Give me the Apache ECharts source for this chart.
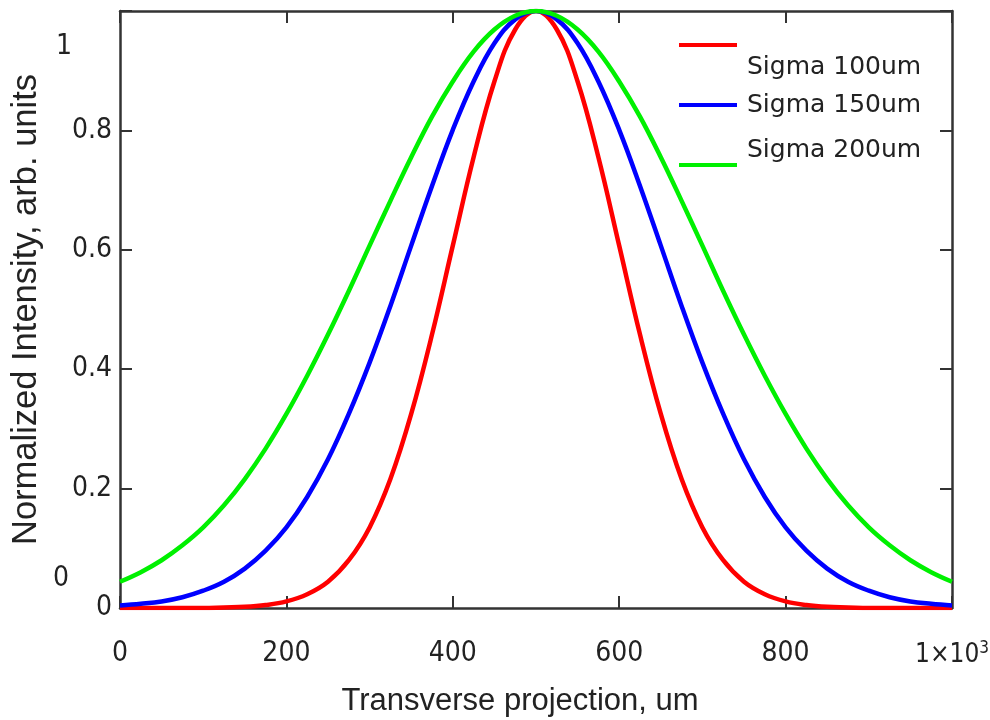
<!DOCTYPE html>
<html>
<head>
<meta charset="utf-8"/>
<title>Gaussian profiles</title>
<script src="https://cdn.jsdelivr.net/npm/echarts@6/dist/echarts.min.js"></script>
<style>
  html, body { margin: 0; padding: 0; background: #fff; }
  #chart { width: 990px; height: 720px; }
</style>
</head>
<body>
<div id="chart"></div>
<script type="text/javascript">
// transverse position, um
var xValues = [0, 25, 50, 75, 100, 125, 150, 175, 200, 225, 250, 275, 300, 325, 350, 375, 400, 425, 450, 475,
  500, 525, 550, 575, 600, 625, 650, 675, 700, 725, 750, 775, 800, 825, 850, 875, 900, 925, 950, 975, 1000];

// normalized intensity
var sigma100 = [0, 0, 0, 0, 0, 0.001, 0.002, 0.005, 0.011, 0.023, 0.044, 0.080, 0.135, 0.216, 0.325, 0.458, 0.607, 0.755, 0.882, 0.969,
  1.000, 0.969, 0.882, 0.755, 0.607, 0.458, 0.325, 0.216, 0.135, 0.080, 0.044, 0.023, 0.011, 0.005, 0.002, 0.001, 0, 0, 0, 0, 0];
var sigma150 = [0.004, 0.007, 0.011, 0.018, 0.029, 0.044, 0.066, 0.096, 0.135, 0.186, 0.249, 0.325, 0.411, 0.506, 0.607, 0.707, 0.801, 0.882, 0.946, 0.986,
  1.000, 0.986, 0.946, 0.882, 0.801, 0.707, 0.607, 0.506, 0.411, 0.325, 0.249, 0.186, 0.135, 0.096, 0.066, 0.044, 0.029, 0.018, 0.011, 0.007, 0.004];
var sigma200 = [0.044, 0.060, 0.080, 0.105, 0.135, 0.172, 0.216, 0.267, 0.325, 0.389, 0.458, 0.531, 0.607, 0.682, 0.755, 0.823, 0.882, 0.932, 0.969, 0.992,
  1.000, 0.992, 0.969, 0.932, 0.882, 0.823, 0.755, 0.682, 0.607, 0.531, 0.458, 0.389, 0.325, 0.267, 0.216, 0.172, 0.135, 0.105, 0.080, 0.060, 0.044];

var seriesNames = ['Sigma 100um', 'Sigma 150um', 'Sigma 200um'];
var seriesColors = ['#ff0000', '#0000ff', '#00f000'];

var pairs = function (ys) {
  return xValues.map(function (x, i) { return [x, ys[i]]; });
};

var tickFont = 'Liberation Sans Narrow, DejaVu Sans Condensed, sans-serif';
var nameFont = 'Liberation Sans, sans-serif';
var axisColor = '#333';

// each legend entry sits a little off its line, like the original
var makeLegend = function (name, top, fmt) {
  return {
    data: [name],
    left: 679,
    top: top,
    padding: 0,
    icon: 'rect',
    itemWidth: 58,
    itemHeight: 4,
    formatter: fmt,
    textStyle: {
      fontFamily: 'DejaVu Sans, sans-serif',
      fontSize: 25,
      color: '#222',
      rich: {
        t: { fontFamily: 'DejaVu Sans, sans-serif', fontSize: 25, color: '#222', lineHeight: 29, padding: [0, 0, 0, 5] },
        s: { fontSize: 10, lineHeight: 44 },
        g: { fontSize: 10, lineHeight: 30 }
      }
    }
  };
};

var myChart = echarts.init(document.getElementById('chart'));
var option = {
  animation: false,
  backgroundColor: '#fff',
  grid: { left: 120, right: 38, top: 11, bottom: 112, containLabel: false, outerBoundsMode: 'none' },
  legend: [
    makeLegend(seriesNames[0], 25.5, function (n) { return '{s| }\n{t|' + n + '}'; }),
    makeLegend(seriesNames[1], 92.5, function (n) { return '{t|' + n + '}'; }),
    makeLegend(seriesNames[2], 137.5, function (n) { return '{t|' + n + '}\n{g| }'; })
  ],
  xAxis: [{
    type: 'value',
    position: 'bottom',
    min: 0,
    max: 1000,
    interval: 200,
    name: 'Transverse projection, um',
    nameLocation: 'middle',
    nameGap: 78,
    nameTextStyle: { fontFamily: nameFont, fontSize: 31, color: '#222', padding: [0, 32, 0, 0] },
    axisLine: { show: true, onZero: false, lineStyle: { color: axisColor, width: 2.5 } },
    axisTick: { show: true, inside: true, length: 12, lineStyle: { color: axisColor, width: 2 } },
    axisLabel: {
      margin: 32,
      fontFamily: tickFont,
      fontSize: 28,
      color: '#222',
      formatter: function (v) { return v === 1000 ? '{b|1×10}{sup|3}' : String(v); },
      rich: {
        b: { fontFamily: tickFont, fontSize: 26, color: '#222' },
        sup: { fontFamily: tickFont, fontSize: 17, verticalAlign: 'top', padding: [0, 0, 14, 0], color: '#222' }
      }
    },
    splitLine: { show: false }
  }, {
    type: 'value',
    position: 'top',
    min: 0,
    max: 1000,
    interval: 200,
    axisLine: { show: true, onZero: false, lineStyle: { color: axisColor, width: 2.5 } },
    axisTick: { show: true, inside: true, length: 12, lineStyle: { color: axisColor, width: 2 } },
    axisLabel: { show: false },
    splitLine: { show: false }
  }],
  yAxis: [{
    type: 'value',
    position: 'left',
    min: 0,
    max: 1,
    interval: 0.2,
    name: 'Normalized Intensity, arb. units',
    nameLocation: 'middle',
    nameGap: 76,
    nameTextStyle: { fontFamily: nameFont, fontSize: 34.5, color: '#222' },
    axisLine: { show: true, onZero: false, lineStyle: { color: axisColor, width: 2.5 } },
    axisTick: { show: true, inside: true, length: 12, lineStyle: { color: axisColor, width: 2 } },
    axisLabel: {
      margin: 8,
      fontFamily: tickFont,
      fontSize: 28,
      color: '#222',
      formatter: function (v) { return v === 1 ? '' : (v === 0 ? '0' : v.toFixed(1)); }
    },
    splitLine: { show: false }
  }, {
    type: 'value',
    position: 'right',
    min: 0,
    max: 1,
    interval: 0.2,
    axisLine: { show: true, onZero: false, lineStyle: { color: axisColor, width: 2.5 } },
    axisTick: { show: true, inside: true, length: 12, lineStyle: { color: axisColor, width: 2 } },
    axisLabel: { show: false },
    splitLine: { show: false }
  }],
  graphic: [
    { type: 'text', left: 56, top: 33, style: { text: '1', font: '28px ' + tickFont, fill: '#222' } },
    { type: 'text', left: 53, top: 565, style: { text: '0', font: '28px ' + tickFont, fill: '#222' } }
  ],
  series: [sigma100, sigma150, sigma200].map(function (ys, i) {
    return {
      name: seriesNames[i],
      type: 'line',
      data: pairs(ys),
      smooth: 0.4,
      showSymbol: false,
      clip: true,
      color: seriesColors[i],
      lineStyle: { color: seriesColors[i], width: 4.5 },
      z: 3 + i
    };
  })
};
myChart.setOption(option);
</script>
</body>
</html>
